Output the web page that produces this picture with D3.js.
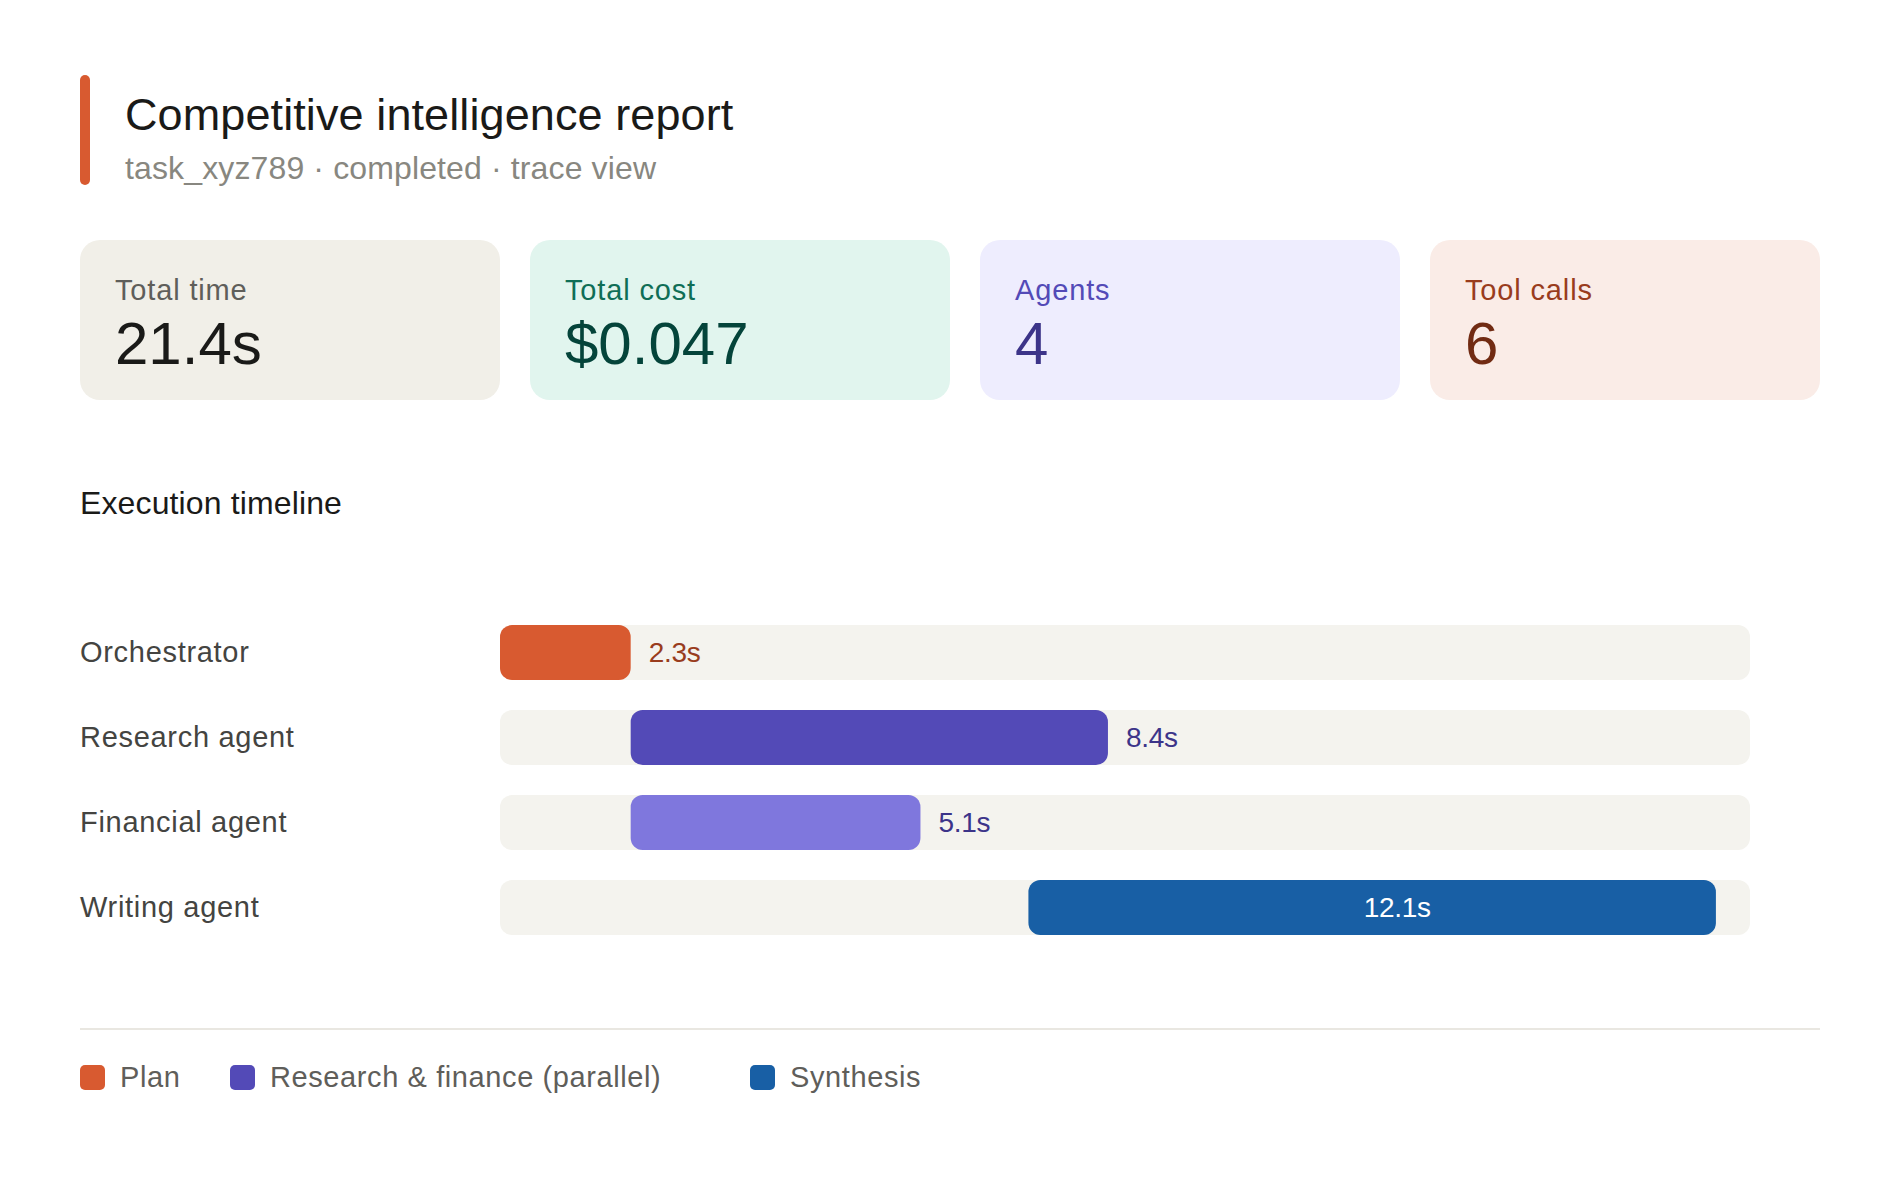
<!DOCTYPE html>
<html>
<head>
<meta charset="utf-8">
<script src="https://cdn.jsdelivr.net/npm/d3@7/dist/d3.min.js"></script>
<style>
  html, body { margin: 0; padding: 0; background: #ffffff; }
  svg { display: block; }
  text { font-family: "Liberation Sans", Arial, Helvetica, sans-serif; }
</style>
</head>
<body>
<svg id="chart" width="1900" height="1200"></svg>
<script>
// ---- data ----
const titleText = "Competitive intelligence report";
const subtitleText = "task_xyz789 · completed · trace view";
const sectionTitle = "Execution timeline";

const statLabels = ["Total time", "Total cost", "Agents", "Tool calls"];
const statValues = ["21.4s", "$0.047", "4", "6"];

const agents = ["Orchestrator", "Research agent", "Financial agent", "Writing agent"];
const startTimes = [0, 2.3, 2.3, 9.3];
const durations = [2.3, 8.4, 5.1, 12.1];
const phases = ["plan", "parallel-a", "parallel-b", "synthesis"];
const timeDomain = [0, 22];

const legendLabels = ["Plan", "Research & finance (parallel)", "Synthesis"];
const legendPhases = ["plan", "parallel-a", "synthesis"];

// ---- styles / layout ----
const phaseColor = {
  "plan": "#d85a30",
  "parallel-a": "#534ab7",
  "parallel-b": "#7f77dd",
  "synthesis": "#185fa5"
};
const labelColor = {
  "plan": "#993c1d",
  "parallel-a": "#3c3489",
  "parallel-b": "#3c3489",
  "synthesis": "#ffffff"
};
const cardStyles = [
  { bg: "#f1efe8", label: "#5f5e5a", value: "#1a1a18" },
  { bg: "#e1f5ee", label: "#0f6e56", value: "#04443a" },
  { bg: "#eeedfe", label: "#534ab7", value: "#3c3489" },
  { bg: "#faece7", label: "#993c1d", value: "#712b13" }
];
const cardWidths = [420, 420, 420, 390];
const cardGap = 30;
const legendOffsets = [0, 150, 670];

const svg = d3.select("#chart");

// ---- header ----
svg.append("rect")
  .attr("x", 80).attr("y", 75).attr("width", 10).attr("height", 110)
  .attr("rx", 5).attr("fill", "#d85a30");
svg.append("text")
  .attr("x", 125).attr("y", 130)
  .attr("font-size", 45).attr("letter-spacing", 0.1).attr("fill", "#1a1a18")
  .text(titleText);
svg.append("text")
  .attr("x", 125).attr("y", 179)
  .attr("font-size", 32).attr("letter-spacing", 0.13).attr("fill", "#888780")
  .text(subtitleText);

// ---- stat cards ----
let cx = 80;
const cardX = cardWidths.map(w => { const x = cx; cx += w + cardGap; return x; });
const cards = svg.append("g").selectAll("g")
  .data(statLabels.map((l, i) => ({ label: l, value: statValues[i], i })))
  .join("g")
  .attr("transform", d => `translate(${cardX[d.i]},240)`);
cards.append("rect")
  .attr("width", d => cardWidths[d.i]).attr("height", 160)
  .attr("rx", 20).attr("fill", d => cardStyles[d.i].bg);
cards.append("text")
  .attr("x", 35).attr("y", 60)
  .attr("font-size", 29).attr("letter-spacing", 0.85).attr("fill", d => cardStyles[d.i].label)
  .text(d => d.label);
cards.append("text")
  .attr("x", 35).attr("y", 124)
  .attr("font-size", 60).attr("fill", d => cardStyles[d.i].value)
  .text(d => d.value);

// ---- section title ----
svg.append("text")
  .attr("x", 80).attr("y", 514)
  .attr("font-size", 32).attr("letter-spacing", 0.13).attr("fill", "#1a1a18")
  .text(sectionTitle);

// ---- timeline ----
const x = d3.scaleLinear().domain(timeDomain).range([500, 1750]);
const y = d3.scaleBand().domain(agents).range([625, 935])
  .paddingInner(30 / 85).paddingOuter(0);

const rows = agents.map((a, i) => ({
  agent: a, start: startTimes[i], dur: durations[i], phase: phases[i]
}));
const fmt = d => d3.format(".1f")(d) + "s";
const isInside = d => x(d.start + d.dur) > x(timeDomain[1]) - 100;

const rowG = svg.append("g").selectAll("g").data(rows).join("g");

rowG.append("text")
  .attr("x", 80)
  .attr("y", d => y(d.agent) + y.bandwidth() / 2 + 9.5)
  .attr("font-size", 29).attr("letter-spacing", 0.7).attr("fill", "#444441")
  .text(d => d.agent);

rowG.append("rect")
  .attr("x", x(timeDomain[0]))
  .attr("y", d => y(d.agent))
  .attr("width", x(timeDomain[1]) - x(timeDomain[0]))
  .attr("height", y.bandwidth())
  .attr("rx", 12).attr("fill", "#f4f3ee");

rowG.append("rect")
  .attr("x", d => x(d.start))
  .attr("y", d => y(d.agent))
  .attr("width", d => x(d.start + d.dur) - x(d.start))
  .attr("height", y.bandwidth())
  .attr("rx", 12).attr("fill", d => phaseColor[d.phase]);

rowG.append("text")
  .attr("x", d => isInside(d) ? (x(d.start) + x(d.start + d.dur)) / 2 + 25 : x(d.start + d.dur) + 18)
  .attr("text-anchor", d => isInside(d) ? "middle" : "start")
  .attr("y", d => y(d.agent) + y.bandwidth() / 2 + 9.5)
  .attr("font-size", 28).attr("letter-spacing", -0.3)
  .attr("fill", d => labelColor[d.phase])
  .text(d => fmt(d.dur));

// ---- divider ----
svg.append("line")
  .attr("x1", 80).attr("x2", 1820).attr("y1", 1029).attr("y2", 1029)
  .attr("stroke", "#e9e7e1").attr("stroke-width", 2);

// ---- legend ----
const lg = svg.append("g").selectAll("g")
  .data(legendLabels.map((l, i) => ({ label: l, phase: legendPhases[i], i })))
  .join("g")
  .attr("transform", d => `translate(${80 + legendOffsets[d.i]},1065)`);
lg.append("rect")
  .attr("width", 25).attr("height", 25).attr("rx", 5)
  .attr("fill", d => phaseColor[d.phase]);
lg.append("text")
  .attr("x", 40).attr("y", 22)
  .attr("font-size", 29).attr("letter-spacing", 0.6).attr("fill", "#5f5e5a")
  .text(d => d.label);
</script>
</body>
</html>
